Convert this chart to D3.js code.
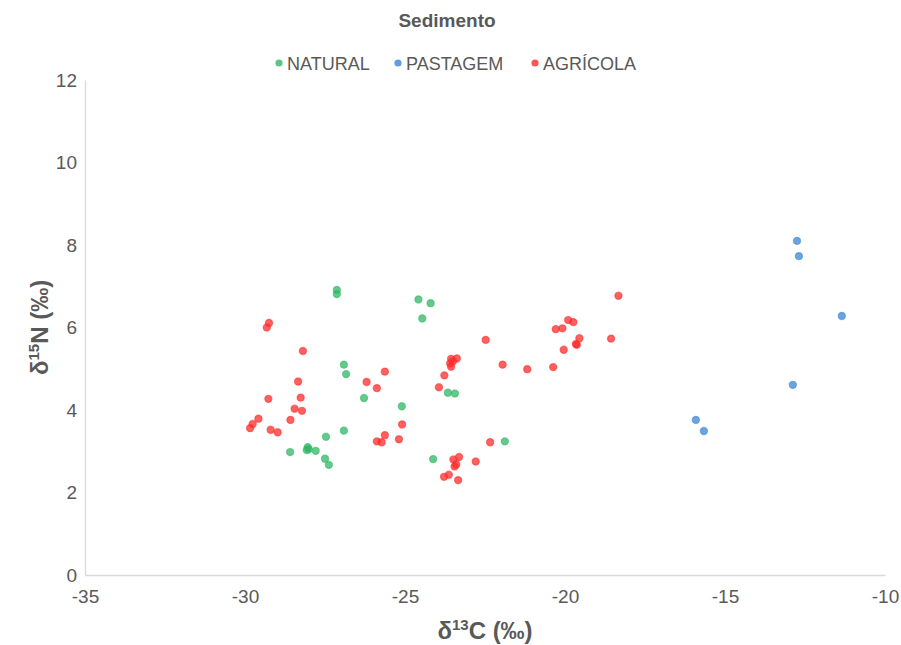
<!DOCTYPE html>
<html lang="pt">
<head>
  <meta charset="UTF-8" />
  <title>Sedimento</title>
  <script src="https://d3js.org/d3.v7.min.js"></script>
  <style>
    body { margin: 0; background: #fff; font-family: "Liberation Sans", Arial, sans-serif; }
    .tick text { fill: #595959; font-size: 19px; font-family: "Liberation Sans", Arial, sans-serif; }
  </style>
</head>
<body>
  <div id="chart"></div>

  <script>
    // Séries (δ13C, δ15N)
    const natural = [
      [-27.13, 6.91], [-27.13, 6.81], [-24.58, 6.68], [-24.20, 6.59], [-24.46, 6.22],
      [-26.91, 5.10], [-26.84, 4.87], [-26.28, 4.29], [-25.10, 4.09], [-23.66, 4.42],
      [-23.44, 4.40], [-26.91, 3.50], [-27.47, 3.35], [-28.04, 3.10], [-28.01, 3.05],
      [-28.07, 3.03], [-27.79, 3.01], [-28.59, 2.98], [-27.50, 2.82], [-27.38, 2.67],
      [-24.12, 2.81], [-21.88, 3.24]
    ];
    const pastagem = [
      [-12.75, 8.10], [-12.69, 7.73], [-11.35, 6.28], [-12.88, 4.61], [-15.91, 3.76], [-15.66, 3.49]
    ];
    const agricola = [
      [-29.25, 6.11], [-29.32, 6.00], [-28.19, 5.43], [-28.34, 4.69], [-29.27, 4.27],
      [-28.26, 4.30], [-28.45, 4.03], [-28.22, 3.98], [-28.58, 3.76], [-29.58, 3.79],
      [-29.76, 3.66], [-29.84, 3.56], [-29.20, 3.52], [-28.98, 3.46], [-25.63, 4.93],
      [-26.20, 4.68], [-25.88, 4.53], [-25.09, 3.65], [-25.63, 3.39], [-25.88, 3.24],
      [-25.73, 3.22], [-25.19, 3.29], [-22.48, 5.70], [-23.56, 5.24], [-23.38, 5.25],
      [-23.59, 5.13], [-23.56, 5.05], [-23.50, 5.18], [-23.77, 4.84], [-23.94, 4.55],
      [-21.95, 5.10], [-21.18, 4.99], [-20.37, 5.04], [-20.29, 5.96], [-20.08, 5.98],
      [-19.90, 6.18], [-19.74, 6.13], [-19.55, 5.74], [-19.66, 5.60], [-19.63, 5.58],
      [-20.04, 5.46], [-18.56, 5.73], [-18.33, 6.77], [-22.34, 3.22], [-23.49, 2.80],
      [-23.31, 2.86], [-23.40, 2.68], [-23.45, 2.63], [-23.78, 2.38], [-23.63, 2.43],
      [-23.34, 2.30], [-22.79, 2.75]
    ];
    const xTicks = [-35, -30, -25, -20, -15, -10];
    const yTicks = [0, 2, 4, 6, 8, 10, 12];

    const series = [
      { name: "NATURAL", data: natural, color: "#2fb865" },
      { name: "PASTAGEM", data: pastagem, color: "#3a86d4" },
      { name: "AGRÍCOLA", data: agricola, color: "#ff2b2b" }
    ];

    const width = 901, height = 645;
    const margin = { top: 80, right: 16, bottom: 70, left: 85 };

    const svg = d3.select("#chart")
      .append("svg")
      .attr("width", width)
      .attr("height", height);

    const x = d3.scaleLinear().domain([-35, -10]).range([margin.left, width - margin.right]);
    const y = d3.scaleLinear().domain([0, 12]).range([height - margin.bottom, margin.top]);

    // Axes (tirets simples pour les nombres négatifs)
    const xAxis = svg.append("g")
      .attr("transform", `translate(0, ${y(0)})`)
      .call(d3.axisBottom(x).tickValues(xTicks).tickFormat(d => String(d)).tickSize(0).tickPadding(15));
    const yAxis = svg.append("g")
      .attr("transform", `translate(${x(-35)}, 0)`)
      .call(d3.axisLeft(y).tickValues(yTicks).tickFormat(d => String(d)).tickSize(0).tickPadding(8));
    xAxis.select(".domain").attr("stroke", "#d9d9d9").attr("stroke-width", 1.3);
    yAxis.select(".domain").attr("stroke", "#d9d9d9").attr("stroke-width", 1.3);
    xAxis.selectAll("text").attr("dy", "0.71em");

    // Titre
    svg.append("text")
      .attr("x", 447).attr("y", 27)
      .attr("text-anchor", "middle")
      .style("font-size", "19px").style("font-weight", "bold").style("fill", "#595959")
      .text("Sedimento");

    // Titres des axes
    const xTitle = svg.append("text")
      .attr("x", (x(-35) + x(-10)) / 2).attr("y", 639)
      .attr("text-anchor", "middle")
      .style("font-size", "24px").style("font-weight", "bold").style("fill", "#595959");
    xTitle.append("tspan").text("δ");
    xTitle.append("tspan").attr("dy", "-9").style("font-size", "15px").text("13");
    xTitle.append("tspan").attr("dy", "9").text("C (‰)");

    const yTitle = svg.append("text")
      .attr("transform", `translate(48, ${(y(0) + y(12)) / 2}) rotate(-90)`)
      .attr("text-anchor", "middle")
      .style("font-size", "24px").style("font-weight", "bold").style("fill", "#595959");
    yTitle.append("tspan").text("δ");
    yTitle.append("tspan").attr("dy", "-9").style("font-size", "15px").text("15");
    yTitle.append("tspan").attr("dy", "9").text("N (‰)");

    // Points
    series.forEach(s => {
      svg.append("g")
        .selectAll("circle")
        .data(s.data)
        .enter()
        .append("circle")
        .attr("cx", d => x(d[0]))
        .attr("cy", d => y(d[1]))
        .attr("r", 3.6)
        .attr("fill", s.color)
        .attr("fill-opacity", 0.75)
        .attr("stroke", s.color)
        .attr("stroke-opacity", 0.55)
        .attr("stroke-width", 1.2);
    });

    // Légende
    const legendX = [279, 398, 535];
    const legend = svg.append("g");
    series.forEach((s, i) => {
      legend.append("circle")
        .attr("cx", legendX[i]).attr("cy", 63).attr("r", 3.6)
        .attr("fill", s.color).attr("fill-opacity", 0.8);
      legend.append("text")
        .attr("x", legendX[i] + 8).attr("y", 69.5)
        .style("font-size", "18px").style("fill", "#595959")
        .text(s.name);
    });
  </script>
</body>
</html>
